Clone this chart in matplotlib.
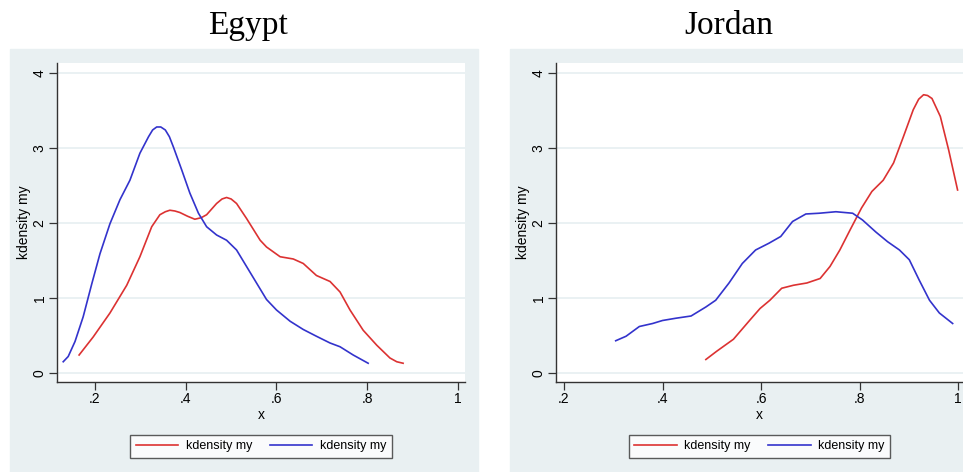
import matplotlib
matplotlib.use("Agg")
import matplotlib.pyplot as plt
from matplotlib.patches import Rectangle

# Egypt
egy_red_x = [0.165, 0.196, 0.233, 0.270, 0.299, 0.325, 0.343, 0.355, 0.365, 0.376, 0.387, 0.404,
             0.420, 0.434, 0.446, 0.468, 0.480, 0.490, 0.500, 0.512, 0.534, 0.564, 0.578, 0.608,
             0.637, 0.659, 0.688, 0.718, 0.740, 0.762, 0.791, 0.821, 0.850, 0.865, 0.879]
egy_red_y = [0.24, 0.48, 0.80, 1.17, 1.55, 1.95, 2.11, 2.15, 2.17, 2.16, 2.14, 2.09,
             2.05, 2.07, 2.11, 2.26, 2.32, 2.34, 2.32, 2.26, 2.06, 1.77, 1.68, 1.55,
             1.52, 1.46, 1.30, 1.22, 1.08, 0.84, 0.57, 0.37, 0.20, 0.15, 0.13]
egy_blue_x = [0.130, 0.141, 0.156, 0.174, 0.193, 0.211, 0.233, 0.255, 0.277, 0.299, 0.318, 0.327,
              0.336, 0.345, 0.355, 0.364, 0.373, 0.391, 0.409, 0.428, 0.446, 0.468, 0.490, 0.512,
              0.534, 0.556, 0.578, 0.600, 0.630, 0.659, 0.688, 0.718, 0.740, 0.769, 0.802]
egy_blue_y = [0.15, 0.22, 0.42, 0.75, 1.19, 1.59, 1.99, 2.31, 2.57, 2.93, 3.15, 3.24,
              3.28, 3.28, 3.24, 3.15, 3.01, 2.71, 2.40, 2.13, 1.95, 1.84, 1.77, 1.64,
              1.42, 1.20, 0.98, 0.84, 0.69, 0.58, 0.49, 0.40, 0.35, 0.24, 0.13]

# Jordan
jor_red_x = [0.488, 0.510, 0.544, 0.578, 0.598, 0.618, 0.642, 0.666, 0.693, 0.720, 0.740, 0.760,
             0.781, 0.804, 0.825, 0.848, 0.869, 0.889, 0.909, 0.920, 0.930, 0.938, 0.947, 0.964,
             0.981, 0.999]
jor_red_y = [0.18, 0.29, 0.45, 0.71, 0.86, 0.97, 1.13, 1.17, 1.20, 1.26, 1.42, 1.64,
             1.91, 2.20, 2.42, 2.57, 2.80, 3.15, 3.51, 3.65, 3.71, 3.70, 3.66, 3.42,
             2.97, 2.44]
jor_blue_x = [0.305, 0.326, 0.353, 0.380, 0.400, 0.427, 0.458, 0.488, 0.508, 0.535, 0.562, 0.589,
              0.616, 0.640, 0.664, 0.691, 0.718, 0.752, 0.786, 0.806, 0.833, 0.857, 0.881, 0.901,
              0.921, 0.942, 0.962, 0.989]
jor_blue_y = [0.43, 0.49, 0.62, 0.66, 0.70, 0.73, 0.76, 0.88, 0.97, 1.20, 1.46, 1.64,
              1.73, 1.82, 2.02, 2.12, 2.13, 2.15, 2.13, 2.04, 1.88, 1.75, 1.64, 1.51,
              1.24, 0.97, 0.80, 0.66]

x_ticks = [0.2, 0.4, 0.6, 0.8, 1.0]
x_labels = [".2", ".4", ".6", ".8", "1"]
y_ticks = [0, 1, 2, 3, 4]

RED = "#dc3232"
BLUE = "#3333cc"
BG = "#e9f0f2"

plt.rcParams["font.family"] = ["Liberation Sans", "DejaVu Sans"]

fig = plt.figure(figsize=(9.63, 4.72), dpi=100)
W, H = 963.0, 472.0

# panel backgrounds
for x0, x1 in [(10, 478), (510, 963)]:
    fig.patches.append(Rectangle((x0 / W, 0), (x1 - x0) / W, (H - 49) / H,
                                 transform=fig.transFigure, color=BG, zorder=-5))

panels = [
    ("Egypt", (57, 465), (0.1163, 1.0154), egy_red_x, egy_red_y, egy_blue_x, egy_blue_y, 248),
    ("Jordan", (556, 963), (0.1838, 1.010), jor_red_x, jor_red_y, jor_blue_x, jor_blue_y, 729),
]

for title, (px0, px1), xlim, rx, ry, bx, by, tx in panels:
    ax = fig.add_axes([px0 / W, (H - 382) / H, (px1 - px0) / W, (382 - 63) / H])
    ax.set_facecolor("white")
    ax.plot(rx, ry, color=RED, lw=1.2, label="kdensity my")
    ax.plot(bx, by, color=BLUE, lw=1.2, label="kdensity my")
    ax.set_xlim(*xlim)
    ax.set_ylim(-0.12, 4.133)
    ax.set_xticks(x_ticks)
    ax.set_xticklabels(x_labels)
    ax.set_yticks(y_ticks)
    ax.tick_params(axis="both", labelsize=10, length=5.5, width=0.9, color="#333333", pad=2)
    for lab in ax.get_yticklabels():
        lab.set_rotation(90)
        lab.set_va("center")
    ax.tick_params(axis="y", pad=2)
    ax.grid(axis="y", color="#e6eff1", lw=1.2)
    ax.set_axisbelow(True)
    for s in ["top", "right"]:
        ax.spines[s].set_visible(False)
    for s in ["left", "bottom"]:
        ax.spines[s].set_color("#333333")
        ax.spines[s].set_linewidth(1.0)
    ax.set_xlabel("x", fontsize=10, labelpad=1)
    ax.set_ylabel("kdensity my", fontsize=10, labelpad=1.5)
    leg = ax.legend(loc="upper center", bbox_to_anchor=(0.5, -0.145), ncol=2, fontsize=9,
                    frameon=True, fancybox=False, handlelength=3.4, columnspacing=1.4,
                    borderpad=0.45, handletextpad=0.6)
    leg.get_frame().set_edgecolor("#333333")
    leg.get_frame().set_linewidth(1.0)
    fig.text(tx / W, 1 - 26 / H, title, ha="center", va="center",
             family="Liberation Serif", fontsize=24)

fig.savefig("out.png", dpi=100)
